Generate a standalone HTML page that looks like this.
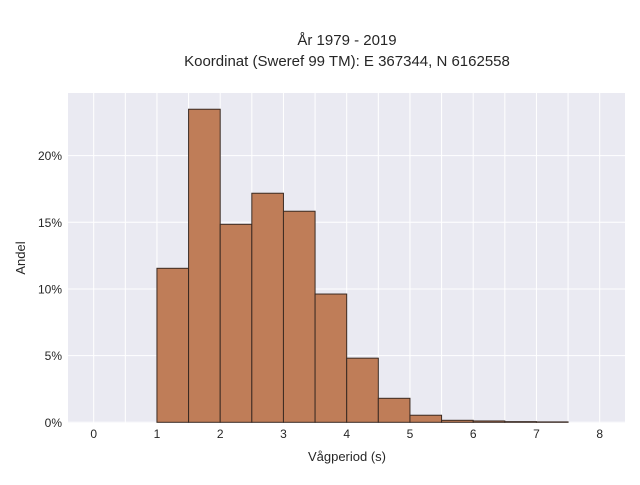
<!DOCTYPE html>
<html><head><meta charset="utf-8"><style>
body{margin:0;background:#fff;font-family:"Liberation Sans",sans-serif}
svg text{font-family:"Liberation Sans",sans-serif;fill:#262626}
</style></head><body>
<svg id="chart" width="640" height="480">
<text x="347" y="45" text-anchor="middle" font-size="15">År 1979 - 2019</text>
<text x="347" y="66" text-anchor="middle" font-size="15">Koordinat (Sweref 99 TM): E 367344, N 6162558</text>
<rect x="68" y="93" width="557" height="330" fill="#eaeaf2"/>
<g id="grid"></g><g id="bars"></g><g id="ticks"></g>
<text x="347" y="461" text-anchor="middle" font-size="13">Vågperiod (s)</text>
<text transform="translate(25,258) rotate(-90)" text-anchor="middle" font-size="13">Andel</text>
</svg>
<script>
const binStarts=[1,1.5,2,2.5,3,3.5,4,4.5,5,5.5,6,6.5,7];
const shares=[11.55,23.48,14.85,17.18,15.83,9.62,4.81,1.8,0.53,0.15,0.1,0.05,0.03];
const xTicks=[0,1,2,3,4,5,6,7,8];
const yTicks=[0,5,10,15,20];
const binWidth=0.5;
const NS="http://www.w3.org/2000/svg";
const X=v=>93.7+v*63.25, Y=v=>422.3-v*13.333;
const grid=document.getElementById('grid'),bars=document.getElementById('bars'),ticks=document.getElementById('ticks');
for(let v=0;v<=8.5;v+=0.5){const l=document.createElementNS(NS,'line');


l.setAttribute('x1',X(v));l.setAttribute('x2',X(v));l.setAttribute('y1',93);l.setAttribute('y2',423);l.setAttribute('stroke','#fff');l.setAttribute('stroke-width',1);grid.appendChild(l);}
yTicks.forEach(v=>{const l=document.createElementNS(NS,'line');


l.setAttribute('x1',68);l.setAttribute('x2',625);l.setAttribute('y1',Y(v));l.setAttribute('y2',Y(v));l.setAttribute('stroke','#fff');grid.appendChild(l);
const t=document.createElementNS(NS,'text');


t.setAttribute('x',62);t.setAttribute('y',Y(v)+4.5);t.setAttribute('text-anchor','end');t.setAttribute('font-size','12');t.textContent=v+'%';ticks.appendChild(t);});
xTicks.forEach(v=>{const t=document.createElementNS(NS,'text');


t.setAttribute('x',X(v));t.setAttribute('y',438);t.setAttribute('text-anchor','middle');t.setAttribute('font-size','12');t.textContent=v;ticks.appendChild(t);});
binStarts.forEach((b,i)=>{const r=document.createElementNS(NS,'rect');


r.setAttribute('x',X(b));r.setAttribute('width',X(b+binWidth)-X(b));r.setAttribute('y',Y(shares[i]));r.setAttribute('height',Y(0)-Y(shares[i]));
r.setAttribute('fill','#bf7d58');r.setAttribute('stroke','#3a2a22');r.setAttribute('stroke-width','1');bars.appendChild(r);});
</script>
</body></html>
